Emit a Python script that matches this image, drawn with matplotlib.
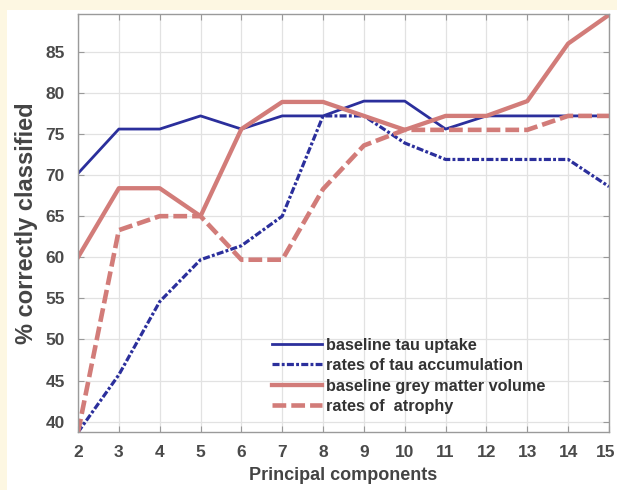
import numpy as np
import matplotlib as mpl
from matplotlib import pyplot as plt
from matplotlib.patches import Rectangle
from matplotlib.transforms import ScaledTranslation

plt.rcParams["font.family"] = ["Liberation Sans", "DejaVu Sans"]
plt.rcParams["font.weight"] = "bold"

components = np.arange(2, 16)

tau_baseline = [70.2, 75.6, 75.6, 77.2, 75.6, 77.2, 77.2, 79.0, 79.0, 75.6, 77.2, 77.2, 77.2, 77.2]
tau_rates = [38.7, 45.7, 54.6, 59.7, 61.4, 65.0, 77.2, 77.2, 73.9, 71.9, 71.9, 71.9, 71.9, 68.6]
gm_baseline = [60.0, 68.4, 68.4, 65.0, 75.6, 78.9, 78.9, 77.2, 75.5, 77.2, 77.2, 79.0, 86.0, 89.5]
atrophy_rates = [38.7, 63.3, 65.0, 65.0, 59.7, 59.7, 68.3, 73.6, 75.5, 75.5, 75.5, 75.5, 77.2, 77.2]

labels = [
    "baseline tau uptake",
    "rates of tau accumulation",
    "baseline grey matter volume",
    "rates of  atrophy",
]
yticks = np.arange(40, 90, 5)

blue = "#2b2f9c"
red = "#d27c79"
text_grey = "#444444"

fig = plt.figure(figsize=(6.17, 4.90), dpi=100)
fig.patch.set_facecolor("#fdf7e2")
# white panel behind the axes
fig.patches.append(
    Rectangle((7 / 617, 0), 1, 1 - 10 / 490, transform=fig.transFigure,
              facecolor="white", edgecolor="none", zorder=-10)
)

ax = fig.add_axes([78 / 617, 57.7 / 490, 531 / 617, 418.3 / 490])

ax.plot(components, tau_baseline, color=blue, lw=2.0, label=labels[0])
ax.plot(components, tau_rates, color=blue, lw=2.3, dashes=(2.2, 0.7, 0.9, 0.7),
        label=labels[1])
ax.plot(components, gm_baseline, color=red, lw=3.1, label=labels[2])
ax.plot(components, atrophy_rates, color=red, lw=3.3, dashes=(3.0, 1.1),
        label=labels[3])

ax.set_xlim(2, 15)
ax.set_ylim(38.7, 89.6)
ax.set_xticks(components)
ax.set_yticks(yticks)
ax.grid(True, color="#e2e2e2", lw=0.9)
ax.set_axisbelow(True)

for s in ax.spines.values():
    s.set_color("#9a9a9a")
    s.set_linewidth(1.0)
ax.tick_params(direction="in", length=4, width=0.8, color="#9a9a9a",
               labelcolor="#4a4a4a", labelsize=12.5, top=True, right=True, pad=9.5)
for t in ax.get_xticklabels() + ax.get_yticklabels():
    t.set_fontweight("bold")

# pull the last x tick label in a little so it stays inside the figure
last = ax.get_xticklabels()[-1]
last.set_transform(last.get_transform() + ScaledTranslation(-3 / 100, 0, fig.dpi_scale_trans))

ax.set_xlabel("Principal components", fontsize=13, fontweight="bold",
              color=text_grey, labelpad=5)
ax.set_ylabel("% correctly classified", fontsize=17, fontweight="bold",
              color=text_grey, labelpad=5)

leg = ax.legend(loc="lower left", bbox_to_anchor=(0.365, 0.044), frameon=False,
                fontsize=11.7, handlelength=3.1, handletextpad=0.25,
                labelspacing=0.33, borderaxespad=0, borderpad=0)
for t in leg.get_texts():
    t.set_color("#333333")
    t.set_fontweight("bold")

fig.savefig("out.png", dpi=100, facecolor=fig.get_facecolor())
